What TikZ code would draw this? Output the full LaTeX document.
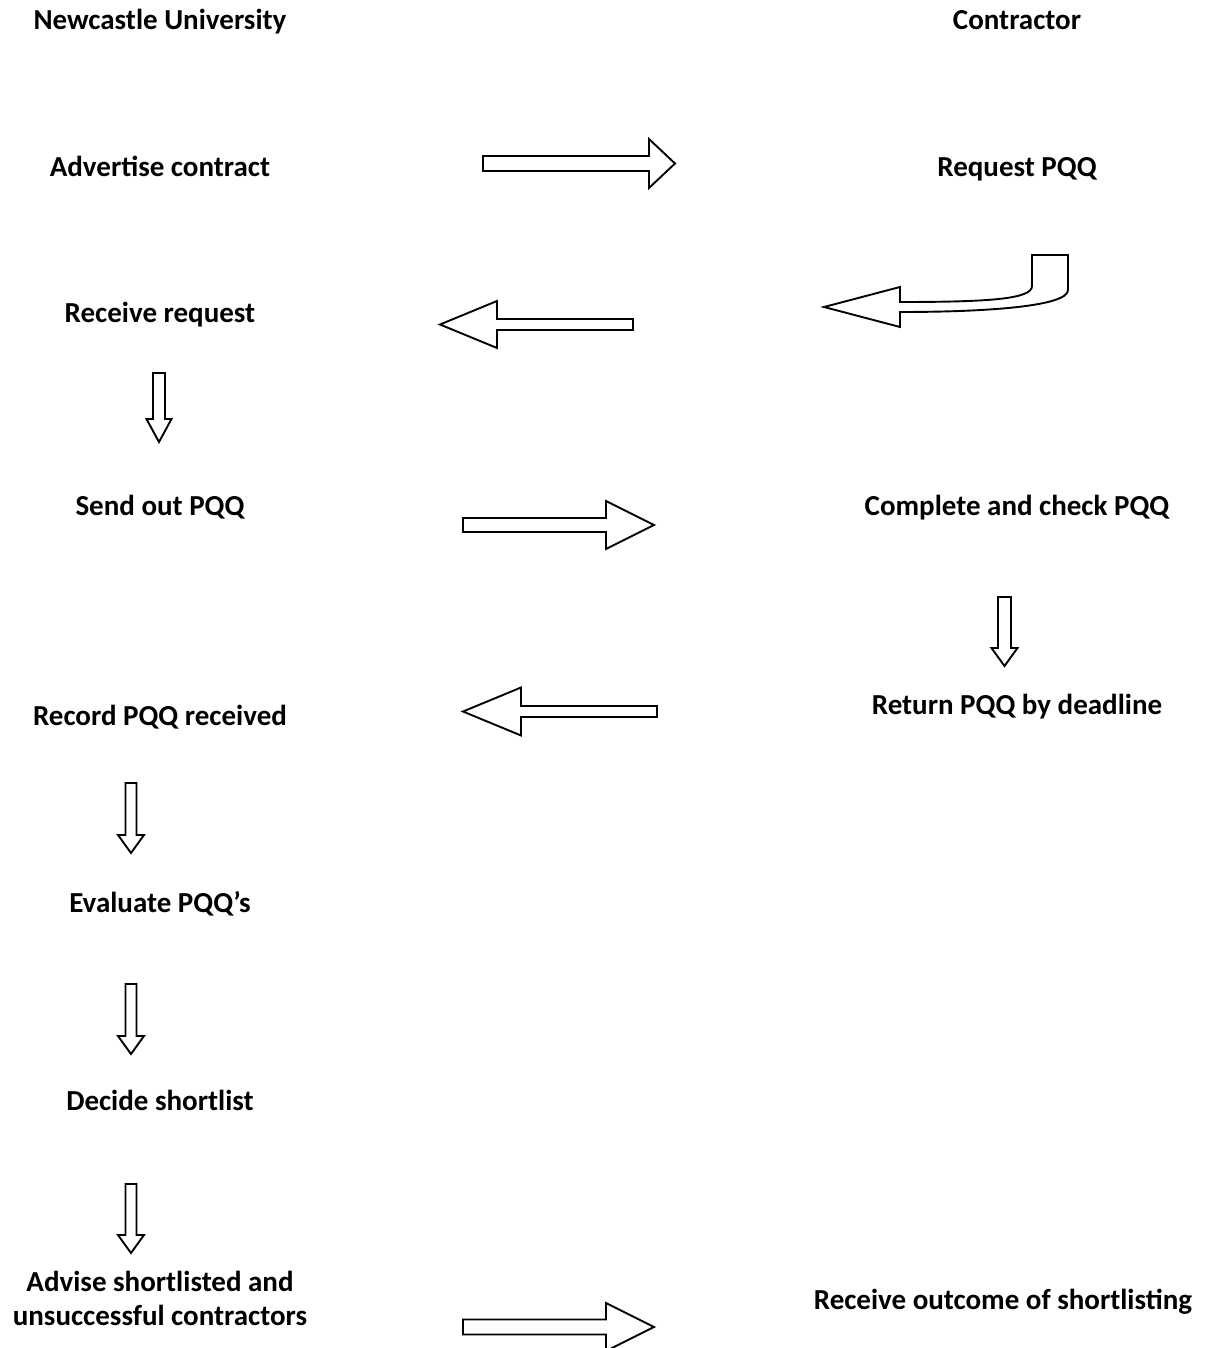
\documentclass[tikz,border=0pt]{standalone}
\usepackage{fontspec}
\setmainfont{Carlito}
\usetikzlibrary{calc}

% block arrow: tail, tip, body half width, head half width, head length
\newcommand{\blockarrow}[5]{%
  \coordinate (#2-base) at ($(#2)!#5!(#1)$);
  \draw[block arrow] ($(#1)!#3!90:(#2)$) -- ($(#2-base)!#3!-90:(#1)$)
    -- ($(#2-base)!#4!-90:(#1)$) -- (#2) -- ($(#2-base)!#4!90:(#1)$)
    -- ($(#2-base)!#3!90:(#1)$) -- ($(#1)!#3!-90:(#2)$) -- cycle;
}

\tikzset{
  step text/.style={font=\fontsize{14.5}{17}\selectfont\bfseries, inner sep=0pt,
    text height=9.3pt, text depth=0pt, align=center},
  block arrow/.style={draw=black, fill=white, line width=0.95pt, line join=miter}
}

\begin{document}
\begin{tikzpicture}[x=0.5pt,y=-0.5pt]
        \useasboundingbox (0,0) rectangle (1223,1348);

        % headings
        \node[step text] at (160, 20) (uni) {Newcastle University};
        \node[step text] at (1017, 20) (contractor) {Contractor};

        % university side
        \node[step text] at (160, 167) (advertise) {Advertise contract};
        \node[step text] at (160, 313) (receive) {Receive request};
        \node[step text] at (160, 506) (sendout) {Send out PQQ};
        \node[step text] at (160, 716) (record) {Record PQQ received};
        \node[step text] at (160, 903) (evaluate) {Evaluate PQQ’s};
        \node[step text] at (160, 1101) (decide) {Decide shortlist};
        \node[step text] at (160, 1316) (advise) {Advise shortlisted and\\unsuccessful contractors};

        % contractor side
        \node[step text] at (1017, 167) (request) {Request PQQ};
        \node[step text] at (1017, 506) (complete) {Complete and check PQQ};
        \node[step text] at (1017, 705) (return) {Return PQQ by deadline};
        \node[step text] at (1003, 1300) (outcome) {Receive outcome of shortlisting};

        % arrow ends
        \coordinate (a1) at (483, 163.5);  \coordinate (a1tip) at (675, 163.5);
        \coordinate (a2) at (633, 324.5);  \coordinate (a2tip) at (440, 324.5);
        \coordinate (a3) at (463, 525);    \coordinate (a3tip) at (654, 525);
        \coordinate (a4) at (657, 711.5);  \coordinate (a4tip) at (463, 711.5);
        \coordinate (a5) at (463, 1327);   \coordinate (a5tip) at (654, 1327);
        \coordinate (d1) at (159, 373);    \coordinate (d1tip) at (159, 442);
        \coordinate (d2) at (1004.5, 597); \coordinate (d2tip) at (1004.5, 666);
        \coordinate (d3) at (131, 783);    \coordinate (d3tip) at (131, 853);
        \coordinate (d4) at (131, 984);    \coordinate (d4tip) at (131, 1054);
        \coordinate (d5) at (131, 1184);   \coordinate (d5tip) at (131, 1253);

        \blockarrow{a1}{a1tip}{3.75pt}{12.25pt}{13pt}
        \blockarrow{a2}{a2tip}{2.75pt}{11.75pt}{28.5pt}
        \blockarrow{a3}{a3tip}{3.5pt}{12pt}{24pt}
        \blockarrow{a4}{a4tip}{2.75pt}{12pt}{29pt}
        \blockarrow{a5}{a5tip}{3.75pt}{12pt}{24pt}
        \blockarrow{d1}{d1tip}{3pt}{6.25pt}{11.5pt}
        \blockarrow{d2}{d2tip}{3.25pt}{6.5pt}{9pt}
        \blockarrow{d3}{d3tip}{2.75pt}{6.5pt}{9pt}
        \blockarrow{d4}{d4tip}{2.75pt}{6.5pt}{9pt}
        \blockarrow{d5}{d5tip}{2.75pt}{6.5pt}{9pt}

        % bent arrow from Request PQQ
        \draw[block arrow] (1032, 255) -- (1068, 255) -- (1068, 290)
            .. controls (1068, 306) and (990, 312) .. (900, 312)
            -- (900, 327) -- (824, 307) -- (900, 287) -- (900, 302)
            .. controls (990, 302) and (1032, 299) .. (1032, 286) -- cycle;
\end{tikzpicture}
\end{document}
